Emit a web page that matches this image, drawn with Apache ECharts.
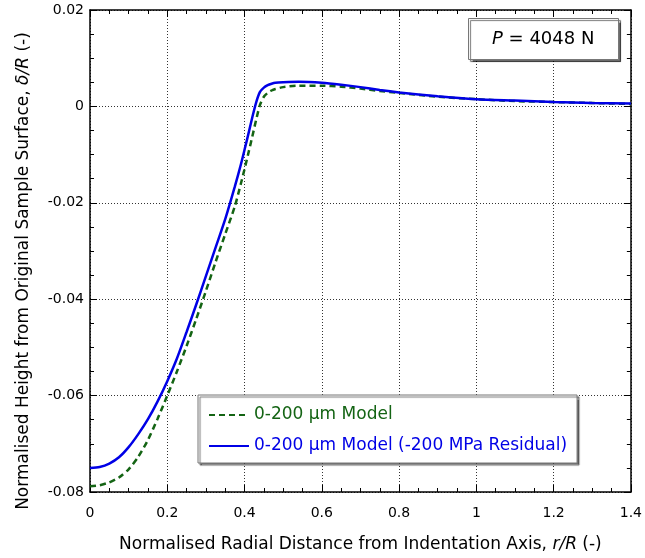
<!DOCTYPE html>
<html>
<head>
<meta charset="utf-8">
<script src="https://cdn.jsdelivr.net/npm/echarts@6/dist/echarts.min.js"></script>
<style>html,body{margin:0;padding:0;background:#fff;}#c{width:645px;height:558px;}</style>
</head>
<body>
<div id="c"></div>
<script>
// Normalised radial distance r/R
const rValues = [0, 0.025, 0.05, 0.075, 0.1, 0.125, 0.15, 0.175, 0.2, 0.225, 0.25, 0.275, 0.3, 0.325, 0.35, 0.375, 0.39, 0.4, 0.41, 0.42, 0.43, 0.44, 0.45, 0.46, 0.47, 0.48, 0.5, 0.54, 0.6, 0.65, 0.7, 0.75, 0.8, 0.9, 1.0, 1.1, 1.2, 1.3, 1.4];
// 0-200 um Model (green dashed)
const modelValues = [-0.0788, -0.0786, -0.0780, -0.0770, -0.0753, -0.0727, -0.0692, -0.0648, -0.0600, -0.0550, -0.0497, -0.0441, -0.0383, -0.0323, -0.0265, -0.0207, -0.0162, -0.0130, -0.0097, -0.0063, -0.0028, 0.0003, 0.0020, 0.0028, 0.0033, 0.0036, 0.0040, 0.0043, 0.0043, 0.0041, 0.0037, 0.0032, 0.0028, 0.0020, 0.0015, 0.0011, 0.0009, 0.0007, 0.0005];
// 0-200 um Model (-200 MPa Residual) (blue solid)
const residualValues = [-0.0750, -0.0748, -0.0741, -0.0728, -0.0707, -0.0680, -0.0649, -0.0612, -0.0570, -0.0523, -0.0468, -0.0411, -0.0352, -0.0293, -0.0234, -0.0166, -0.0122, -0.0090, -0.0057, -0.0023, 0.0008, 0.0030, 0.0039, 0.0044, 0.0047, 0.0049, 0.0050, 0.0051, 0.0049, 0.0045, 0.0040, 0.0034, 0.0029, 0.0021, 0.0015, 0.0012, 0.0009, 0.0007, 0.0006];
const seriesNames = ['0-200 µm Model', '0-200 µm Model (-200 MPa Residual)'];
const xTicks = { min: 0, max: 1.4, interval: 0.2 };
const yTicks = { min: -0.08, max: 0.02, interval: 0.02 };

const FONT = 'DejaVu Sans';
const GREEN = '#146414';
const BLUE = '#0000e6';

function pairs(xs, ys) { return xs.map((x, i) => [x, ys[i]]); }

const frameAxis = {
  axisLine: { show: true, onZero: false, lineStyle: { color: '#000', width: 1.5 } },
  axisTick: { show: true, inside: true, length: 7, lineStyle: { color: '#000', width: 1 } },
  minorTick: { show: true, splitNumber: 4, length: 4, lineStyle: { color: '#000', width: 1 } },
};
const gridLine = { show: true, lineStyle: { color: '#333', width: 1, type: [1, 2] } };

const chart = echarts.init(document.getElementById('c'), null, { renderer: 'canvas' });
chart.setOption({
  animation: false,
  backgroundColor: '#fff',
  textStyle: { fontFamily: FONT },
  grid: { left: 90, right: 13, top: 10, bottom: 64, containLabel: false },
  title: {
    text: '{i|P} = 4048 N',
    left: 468, top: 18,
    padding: [10, 24],
    backgroundColor: '#fff',
    borderColor: '#777', borderWidth: 1,
    shadowBlur: 1, shadowOffsetX: 2, shadowOffsetY: 2, shadowColor: 'rgba(0,0,0,0.55)',
    textStyle: {
      fontFamily: FONT, fontSize: 18, fontWeight: 'normal', color: '#000', lineHeight: 22,
      rich: { i: { fontFamily: FONT, fontStyle: 'italic', fontSize: 18, color: '#000', lineHeight: 22 } }
    }
  },
  legend: {
    left: 198, top: 395,
    orient: 'vertical',
    padding: [10, 10, 7, 10],
    itemGap: 11,
    itemWidth: 40, itemHeight: 14,
    itemTextGap: 5,
    backgroundColor: '#fff',
    borderColor: '#777', borderWidth: 1,
    shadowBlur: 1, shadowOffsetX: 2, shadowOffsetY: 2, shadowColor: 'rgba(0,0,0,0.55)',
    itemStyle: { opacity: 0, borderWidth: 0 },
    textStyle: { fontFamily: FONT, fontSize: 17, lineHeight: 20 },
    data: [
      { name: seriesNames[0], textStyle: { color: GREEN } },
      { name: seriesNames[1], textStyle: { color: BLUE } }
    ]
  },
  xAxis: [
    Object.assign({
      type: 'value', position: 'bottom',
      min: xTicks.min, max: xTicks.max, interval: xTicks.interval,
      name: 'Normalised Radial Distance from Indentation Axis, {i|r/R} (-)',
      nameLocation: 'middle', nameGap: 44,
      nameTextStyle: { fontFamily: FONT, fontSize: 17, color: '#000',
        rich: { i: { fontFamily: FONT, fontSize: 17, fontStyle: 'italic', color: '#000' } } },
      axisLabel: { color: '#000', fontFamily: FONT, fontSize: 14, margin: 14 },
      splitLine: gridLine
    }, frameAxis),
    Object.assign({
      type: 'value', position: 'top',
      min: xTicks.min, max: xTicks.max, interval: xTicks.interval,
      axisLabel: { show: false }, splitLine: { show: false }
    }, frameAxis)
  ],
  yAxis: [
    Object.assign({
      type: 'value', position: 'left',
      min: yTicks.min, max: yTicks.max, interval: yTicks.interval,
      name: 'Normalised Height from Original Sample Surface, {i|δ/R} (-)',
      nameLocation: 'middle', nameGap: 58, nameRotate: 90,
      nameTextStyle: { fontFamily: FONT, fontSize: 17, color: '#000', padding: [0, 40, 0, 0],
        rich: { i: { fontFamily: FONT, fontSize: 17, fontStyle: 'italic', color: '#000' } } },
      axisLabel: { color: '#000', fontFamily: FONT, fontSize: 14, margin: 6, padding: [6, 0, 0, 0] },
      splitLine: gridLine
    }, frameAxis),
    Object.assign({
      type: 'value', position: 'right',
      min: yTicks.min, max: yTicks.max, interval: yTicks.interval,
      axisLabel: { show: false }, splitLine: { show: false }
    }, frameAxis)
  ],
  series: [
    {
      name: seriesNames[0], type: 'line', xAxisIndex: 0, yAxisIndex: 0,
      data: pairs(rValues, modelValues),
      showSymbol: false, symbol: 'none', smooth: 0.25,
      lineStyle: { color: GREEN, width: 2.5, type: [6, 4] },
      itemStyle: { color: GREEN }, z: 2
    },
    {
      name: seriesNames[1], type: 'line', xAxisIndex: 0, yAxisIndex: 0,
      data: pairs(rValues, residualValues),
      showSymbol: false, symbol: 'none', smooth: 0.25,
      lineStyle: { color: BLUE, width: 2.5, type: 'solid' },
      itemStyle: { color: BLUE }, z: 3
    }
  ]
});
</script>
</body>
</html>
